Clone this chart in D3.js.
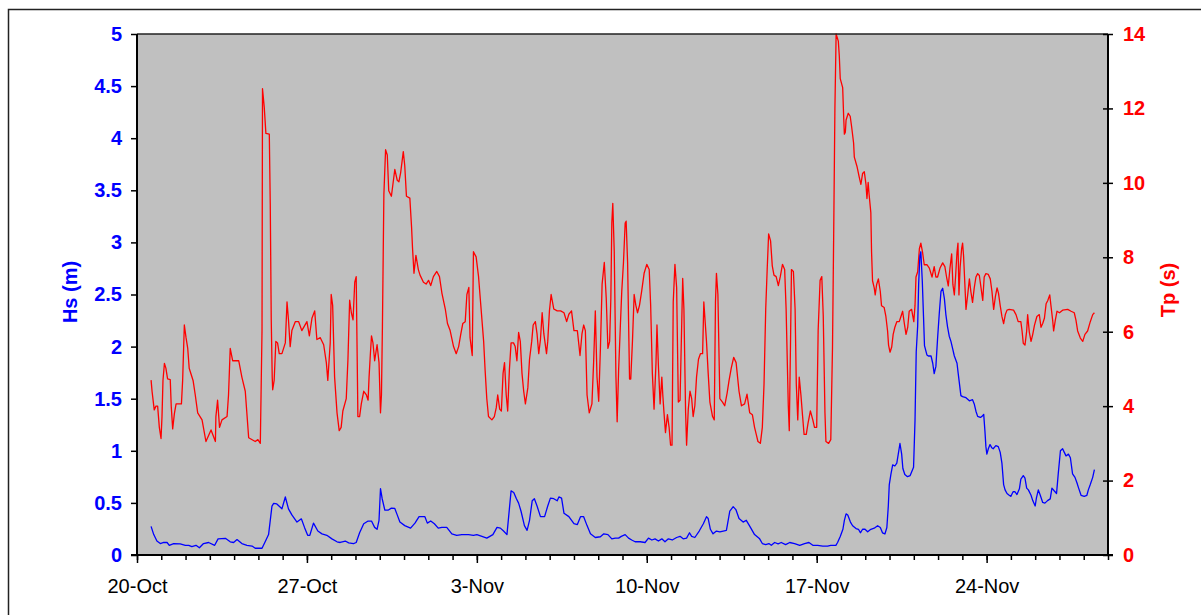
<!DOCTYPE html>
<html>
<head>
<meta charset="utf-8">
<script src="https://cdn.jsdelivr.net/npm/d3@7"></script>
<style>
  body { margin: 0; background: #fff; }
  text { font-family: "Liberation Sans", Arial, sans-serif; }
</style>
</head>
<body>
<svg id="chart" width="1201" height="615"></svg>
<script>
// days after 20-Oct (00:00) and the value read at that time
var startDate = Date.UTC(2004, 9, 20);
var endDay = 40;

var tpDay = [0.58,0.62,0.71,0.78,0.85,0.92,0.99,1.03,1.07,1.13,1.19,1.26,1.37,1.41,1.47,1.54,1.61,1.83,1.88,1.95,2.02,2.09,2.15,2.31,2.40,2.50,2.68,2.84,3.05,3.23,3.25,3.32,3.40,3.50,3.71,3.77,3.84,3.94,4.19,4.32,4.46,4.60,4.87,4.98,5.08,5.11,5.15,5.17,5.24,5.31,5.45,5.49,5.53,5.57,5.59,5.65,5.72,5.79,5.86,5.97,6.11,6.18,6.24,6.31,6.38,6.52,6.66,6.79,7.00,7.10,7.21,7.32,7.41,7.55,7.69,7.80,7.86,7.96,8.00,8.06,8.14,8.24,8.33,8.41,
  8.48,8.62,8.69,8.76,8.83,8.90,8.97,9.03,9.10,9.17,9.24,9.34,9.45,9.52,9.56,9.61,9.66,9.72,9.79,9.89,9.97,10.03,10.07,10.11,10.17,10.24,10.31,10.37,10.48,10.62,10.72,10.79,10.86,10.97,11.03,11.10,11.24,11.31,11.35,11.41,11.49,11.59,11.66,11.80,11.91,12.01,12.10,12.21,12.35,12.46,12.56,12.70,12.79,12.90,13.04,13.15,13.25,13.34,13.42,13.52,13.59,13.67,13.72,13.81,13.86,13.97,14.07,14.14,14.28,14.34,14.41,14.48,14.62,14.72,14.80,14.86,14.94,15.01,15.08,15.14,15.21,15.27,15.34,15.41,15.51,15.58,15.65,15.72,15.79,15.86,15.93,16.00,16.10,16.17,16.26,16.32,16.41,16.48,16.55,16.62,16.69,16.76,16.87,16.92,16.99,17.06,17.17,17.31,17.45,17.59,17.70,17.79,17.90,18.00,18.14,18.25,
  18.33,18.40,18.47,18.54,18.63,18.74,18.81,18.88,18.95,19.02,19.09,19.16,19.25,19.33,19.40,19.47,19.52,19.56,19.60,19.66,19.73,19.78,19.84,19.91,19.97,20.04,20.11,20.15,20.21,20.29,20.34,20.41,20.48,20.55,20.62,20.70,20.79,20.89,21.00,21.10,21.16,21.23,21.30,21.38,21.42,21.48,21.55,21.62,21.66,21.71,21.77,21.85,21.92,21.98,22.04,22.09,22.16,22.23,22.30,22.37,22.44,22.48,22.53,22.60,22.64,22.71,22.78,22.85,22.91,22.98,23.05,23.13,23.21,23.30,23.35,23.41,23.46,23.53,23.60,23.71,23.78,23.83,23.87,23.93,24.01,24.12,24.21,24.31,24.39,24.48,24.58,24.68,24.80,24.90,25.03,25.13,25.24,25.35,25.44,25.51,25.58,25.68,25.76,25.83,25.90,25.96,26.02,26.10,26.17,26.24,26.33,26.42,26.50,26.59,26.68,26.74,26.83,26.87,26.92,26.96,27.04,27.11,27.16,27.22,27.28,27.35,27.42,27.48,27.57,27.64,27.74,27.84,27.91,28.00,28.06,28.14,28.21,28.27,28.34,28.38,28.49,28.58,28.65,28.70,28.75,28.80,
  28.89,28.93,28.97,29.07,29.11,29.14,29.18,29.21,29.30,29.38,29.44,29.52,29.55,29.66,29.75,29.82,29.89,29.96,30.03,30.07,30.12,30.16,30.23,30.26,30.30,30.37,30.41,30.47,30.54,30.62,30.67,30.78,30.85,30.92,30.96,31.02,31.09,31.15,31.22,31.30,31.40,31.47,31.54,31.61,31.68,31.75,31.81,31.91,32.00,32.05,32.09,32.16,32.23,32.29,32.36,32.43,32.54,32.64,32.75,32.84,32.91,32.98,33.08,33.19,33.28,33.35,33.42,33.49,33.56,33.61,33.67,33.72,33.78,33.82,33.86,33.91,33.97,34.01,34.05,34.11,34.15,34.22,34.29,34.35,34.42,34.49,34.56,34.63,34.70,34.77,34.84,34.90,34.97,35.07,35.15,35.22,35.29,35.36,35.43,35.49,35.56,35.63,35.70,35.77,35.84,35.93,36.11,36.21,36.30,36.41,36.46,36.51,36.58,36.65,36.69,36.76,36.83,36.90,36.97,37.07,37.17,37.24,37.31,37.38,37.45,37.52,37.60,37.65,37.72,37.76,37.83,37.90,38.00,38.13,38.34,38.48,38.61,38.68,38.75,38.86,38.96,39.05,39.16,39.27,39.37,39.44];
var tpVal = [4.70,4.40,3.90,4.00,4.00,3.43,3.13,3.72,4.69,5.15,5.02,4.73,4.71,4.00,3.39,3.80,4.06,4.06,4.69,6.18,5.84,5.55,5.02,4.69,4.30,3.82,3.63,3.05,3.36,3.05,3.72,4.16,3.43,3.63,3.72,4.30,5.55,5.22,5.22,4.78,4.40,3.15,3.05,3.10,3.00,4.30,6.03,12.53,12.05,11.33,11.31,9.40,6.32,4.78,4.44,4.69,5.74,5.70,5.41,5.41,5.70,6.80,6.32,5.60,6.03,6.27,6.27,6.03,6.27,5.89,6.37,6.56,5.79,5.84,5.65,5.17,4.69,5.70,7.00,6.71,4.78,3.82,3.34,3.43,
  3.87,4.20,5.26,6.85,6.51,6.32,7.33,7.48,3.72,3.72,4.06,4.40,4.30,4.16,4.78,5.36,5.89,5.70,5.22,5.65,5.17,3.82,4.30,6.13,9.69,10.89,10.75,9.79,9.64,10.36,10.07,10.03,10.27,10.84,10.46,9.64,9.59,8.82,8.25,7.57,8.05,7.67,7.52,7.33,7.28,7.38,7.24,7.48,7.62,7.48,7.04,6.61,6.22,6.03,5.60,5.41,5.60,5.94,6.22,6.27,7.00,7.19,5.84,5.36,8.15,8.01,7.48,6.90,5.74,4.97,4.20,3.72,3.63,3.72,3.96,4.30,3.92,3.87,4.88,5.17,4.30,3.87,4.97,5.70,5.70,5.60,5.22,5.98,5.74,4.88,4.40,4.06,4.49,5.26,5.74,6.18,6.27,5.94,5.41,5.79,6.51,5.94,5.41,5.74,6.56,7.00,6.61,6.56,6.56,6.51,6.27,6.47,6.56,6.03,6.03,5.36,
  5.94,6.18,6.03,4.30,3.82,4.06,5.17,6.56,4.78,4.13,5.55,7.28,7.86,6.90,5.55,5.74,6.90,8.92,9.45,8.15,4.78,3.58,4.97,6.13,7.09,7.86,8.92,8.97,7.86,4.73,4.73,5.74,7.00,6.71,6.51,6.71,7.09,7.57,7.81,7.67,6.71,4.88,3.92,5.17,6.18,5.07,4.06,4.78,4.30,3.82,3.29,3.77,3.43,2.95,2.95,6.80,7.81,7.19,4.11,4.16,6.22,7.43,6.61,3.82,2.95,3.92,4.40,4.20,3.72,4.01,4.78,5.26,5.41,5.41,6.80,6.22,5.74,4.88,4.11,3.72,3.63,6.80,7.57,7.00,4.20,4.11,4.01,4.35,4.69,5.02,5.31,5.17,4.40,4.01,4.06,4.32,3.82,3.77,3.43,3.24,3.05,3.00,3.43,4.59,6.61,7.67,8.63,8.44,7.77,7.52,7.48,7.24,7.48,7.81,7.67,6.61,4.01,3.34,5.65,7.67,7.62,6.61,4.59,3.63,4.78,4.30,3.72,3.24,3.24,3.53,3.87,3.63,3.43,3.43,6.03,7.38,7.48,6.42,3.82,3.05,3.00,3.10,5.55,8.63,12.00,14.00,
  13.81,13.42,12.80,12.56,11.79,11.31,11.36,11.69,11.87,11.79,11.50,11.07,10.69,10.44,10.16,9.96,10.25,10.30,9.96,9.58,10.01,9.68,9.20,8.14,7.37,7.18,6.99,7.27,7.42,7.08,6.70,6.65,6.41,6.02,5.64,5.45,5.59,5.93,6.12,6.27,6.27,6.41,6.55,6.22,5.93,6.12,6.55,6.60,6.27,6.70,7.47,7.61,8.23,8.38,8.14,7.80,7.80,7.71,7.47,7.75,7.47,7.47,7.71,7.85,7.75,7.47,7.23,7.71,8.09,7.27,6.99,7.47,8.14,8.38,6.99,7.75,8.23,8.38,8.04,7.18,6.60,6.99,7.42,7.08,6.79,7.18,7.47,7.56,7.51,7.18,6.84,7.47,7.56,7.54,7.42,7.08,6.60,6.94,7.18,7.03,6.70,6.41,6.22,6.46,6.58,6.60,6.58,6.46,6.27,6.27,6.02,5.69,5.64,6.02,6.46,5.98,5.74,5.93,6.17,6.41,6.46,6.12,6.22,6.36,6.75,6.84,6.99,6.70,6.31,6.02,6.31,6.55,6.51,6.58,6.60,6.55,6.51,6.31,6.02,5.83,5.74,5.93,6.02,6.27,6.46,6.51];

var hsDay = [0.58,0.69,0.82,0.96,1.10,1.24,1.33,1.51,1.78,1.99,2.13,2.26,2.43,2.57,2.74,2.95,3.20,3.34,3.64,3.84,3.98,4.12,4.32,4.53,4.74,4.87,5.15,5.28,5.42,5.56,5.63,5.76,5.97,6.11,6.24,6.38,6.59,6.77,6.90,7.03,7.12,7.27,7.45,7.62,7.82,8.03,8.24,8.37,8.58,8.72,8.92,
  9.03,9.17,9.34,9.52,9.66,9.79,9.89,9.97,10.03,10.10,10.21,10.34,10.48,10.62,10.72,10.83,11.03,11.27,11.45,11.62,11.86,11.96,12.10,12.25,12.41,12.56,12.76,12.97,13.17,13.38,13.66,13.86,14.00,14.21,14.41,14.66,14.83,14.97,15.10,15.24,15.41,15.52,15.63,15.72,15.82,15.96,16.07,16.17,16.28,16.37,16.48,16.62,16.79,16.92,17.03,17.17,17.31,17.38,17.49,17.59,17.79,18.00,18.14,
  18.27,18.40,18.54,18.68,18.88,19.09,19.23,19.40,19.56,19.70,19.84,19.95,20.11,20.25,20.38,20.52,20.73,20.93,21.07,21.21,21.34,21.48,21.62,21.75,21.89,22.05,22.23,22.37,22.50,22.64,22.76,22.85,22.98,23.16,23.33,23.46,23.53,23.62,23.73,23.87,24.01,24.15,24.28,24.33,24.42,24.56,24.67,24.80,24.97,25.10,25.27,25.44,25.65,25.76,25.90,26.03,26.13,26.27,26.41,26.54,26.72,26.89,27.09,27.30,27.50,27.68,27.84,28.04,28.25,28.45,28.58,
  28.70,28.79,28.86,28.97,29.08,29.14,29.21,29.28,29.39,29.48,29.62,29.72,29.80,29.89,29.99,30.10,30.23,30.37,30.51,30.62,30.71,30.81,30.89,30.95,30.99,31.06,31.13,31.22,31.30,31.36,31.43,31.50,31.55,31.63,31.74,31.85,31.91,31.99,32.05,32.10,32.16,32.20,32.25,32.29,32.35,32.40,32.44,32.54,32.60,32.71,32.78,32.84,32.91,32.98,33.05,33.12,33.19,33.26,33.32,33.39,33.46,33.53,33.60,33.67,33.78,33.83,33.94,34.01,34.15,34.29,34.42,34.49,34.56,34.63,34.74,34.81,34.88,34.93,34.97,35.01,35.07,35.14,35.21,35.27,35.38,35.48,35.56,35.63,35.70,35.76,35.84,35.93,36.00,36.09,36.17,36.25,36.35,36.41,36.51,36.58,36.65,36.72,36.83,36.90,37.00,37.05,37.13,37.21,37.31,37.40,37.51,37.62,37.69,37.79,37.88,37.95,38.04,38.13,38.20,38.27,38.37,38.45,38.54,38.64,38.72,38.79,38.89,39.02,39.13,39.19,39.27,39.37,39.44];
var hsVal = [0.275,0.196,0.134,0.11,0.12,0.12,0.093,0.11,0.107,0.093,0.093,0.08,0.093,0.069,0.11,0.12,0.093,0.155,0.16,0.127,0.12,0.148,0.11,0.093,0.086,0.065,0.065,0.127,0.196,0.47,0.495,0.49,0.443,0.557,0.443,0.385,0.316,0.347,0.265,0.189,0.189,0.306,0.23,0.203,0.189,0.155,0.127,0.12,0.134,0.117,0.11,
  0.12,0.213,0.30,0.326,0.326,0.265,0.247,0.333,0.636,0.54,0.43,0.43,0.45,0.447,0.385,0.316,0.282,0.258,0.306,0.368,0.368,0.306,0.326,0.30,0.258,0.265,0.265,0.203,0.189,0.196,0.196,0.189,0.196,0.179,0.162,0.196,0.265,0.258,0.23,0.196,0.615,0.60,0.54,0.498,0.42,0.282,0.237,0.333,0.52,0.54,0.47,0.368,0.368,0.47,0.546,0.54,0.52,0.557,0.546,0.40,0.368,0.30,0.292,
  0.368,0.368,0.282,0.203,0.168,0.175,0.203,0.196,0.155,0.162,0.162,0.179,0.196,0.162,0.144,0.127,0.127,0.12,0.162,0.144,0.155,0.134,0.155,0.127,0.155,0.144,0.168,0.179,0.155,0.162,0.213,0.179,0.168,0.23,0.30,0.368,0.35,0.247,0.203,0.23,0.223,0.23,0.237,0.30,0.42,0.464,0.436,0.35,0.316,0.333,0.265,0.196,0.155,0.11,0.10,0.11,0.093,0.12,0.107,0.12,0.10,0.12,0.11,0.093,0.11,0.12,0.093,0.093,0.086,0.086,0.093,
  0.093,0.093,0.12,0.178,0.247,0.333,0.395,0.384,0.316,0.281,0.254,0.247,0.213,0.247,0.247,0.223,0.247,0.257,0.281,0.264,0.213,0.202,0.264,0.47,0.676,0.779,0.865,0.854,0.882,0.968,1.07,0.968,0.83,0.772,0.752,0.762,0.796,0.841,1.29,1.95,2.20,2.60,2.87,2.91,2.63,2.29,2.01,1.92,1.91,1.91,1.84,1.74,1.81,2.08,2.32,2.53,2.56,2.46,2.31,2.19,2.10,2.05,1.98,1.91,1.84,1.74,1.53,1.52,1.51,1.48,1.49,1.45,1.38,1.33,1.32,1.33,1.35,1.19,1.04,0.968,1.02,1.06,1.03,1.02,1.05,1.04,0.985,0.882,0.676,0.625,0.59,0.573,0.563,0.607,0.607,0.58,0.635,0.728,0.762,0.738,0.642,0.625,0.573,0.522,0.47,0.546,0.625,0.573,0.504,0.498,0.522,0.539,0.642,0.614,0.59,0.779,1.0,1.02,0.985,0.951,0.968,0.933,0.779,0.745,0.693,0.642,0.573,0.563,0.573,0.625,0.676,0.745,0.82];

var hsTicks = [0, 0.5, 1, 1.5, 2, 2.5, 3, 3.5, 4, 4.5, 5];
var tpTicks = [0, 2, 4, 6, 8, 10, 12, 14];

var width = 1201, height = 615;
var margin = {top: 34, right: 93, bottom: 60, left: 137};
var innerW = width - margin.left - margin.right;
var innerH = height - margin.top - margin.bottom;

var toDate = function(d) { return new Date(startDate + d * 864e5); };

var x = d3.scaleUtc()
  .domain([toDate(0), toDate(endDay)])
  .range([0, innerW]);
var yHs = d3.scaleLinear().domain([0, 5]).range([innerH, 0]);
var yTp = d3.scaleLinear().domain([0, 14]).range([innerH, 0]);

var svg = d3.select("#chart");

// outer chart frame (runs off the right and bottom of the picture)
svg.append("rect")
  .attr("x", 8.5).attr("y", 9.5)
  .attr("width", 1300).attr("height", 700)
  .attr("fill", "none")
  .attr("stroke", "#222")
  .attr("stroke-width", 1.5);

var g = svg.append("g")
  .attr("transform", "translate(" + margin.left + "," + margin.top + ")");

g.append("rect")
  .attr("width", innerW).attr("height", innerH)
  .attr("fill", "#c0c0c0");

var hsData = hsDay.map(function(d, i) { return {t: toDate(d), v: hsVal[i]}; });
var tpData = tpDay.map(function(d, i) { return {t: toDate(d), v: tpVal[i]}; });

g.append("path")
  .datum(tpData)
  .attr("fill", "none")
  .attr("stroke", "#ff0000")
  .attr("stroke-width", 1.3)
  .attr("stroke-linejoin", "round")
  .attr("d", d3.line().x(function(d) { return x(d.t); }).y(function(d) { return yTp(d.v); }));

g.append("path")
  .datum(hsData)
  .attr("fill", "none")
  .attr("stroke", "#0000ff")
  .attr("stroke-width", 1.3)
  .attr("stroke-linejoin", "round")
  .attr("d", d3.line().x(function(d) { return x(d.t); }).y(function(d) { return yHs(d.v); }));

// plot border
g.append("line").attr("x1", 0).attr("x2", innerW).attr("y1", 0).attr("y2", 0)
  .attr("stroke", "#222").attr("stroke-width", 1.5);
g.append("line").attr("x1", 0).attr("x2", 0).attr("y1", 0).attr("y2", innerH)
  .attr("stroke", "#000").attr("stroke-width", 2);
g.append("line").attr("x1", innerW).attr("x2", innerW).attr("y1", 0).attr("y2", innerH)
  .attr("stroke", "#000").attr("stroke-width", 2);
g.append("line").attr("x1", -6).attr("x2", innerW + 5).attr("y1", innerH).attr("y2", innerH)
  .attr("stroke", "#000").attr("stroke-width", 2);

// left axis, Hs
var leftAxis = g.append("g")
  .call(d3.axisLeft(yHs).tickValues(hsTicks).tickSize(6).tickPadding(9)
    .tickFormat(function(d) { return String(d); }));
leftAxis.select(".domain").remove();
leftAxis.selectAll("line").attr("stroke", "#000").attr("stroke-width", 1.5);
leftAxis.selectAll("text")
  .attr("fill", "#0000ff")
  .style("font-size", "20px")
  .style("font-weight", "bold");

// right axis, Tp (ticks cross the axis)
var rightAxis = g.append("g")
  .attr("transform", "translate(" + innerW + ",0)")
  .call(d3.axisRight(yTp).tickValues(tpTicks).tickSize(5).tickPadding(10));
rightAxis.select(".domain").remove();
rightAxis.selectAll("line").attr("x1", -5).attr("stroke", "#000").attr("stroke-width", 1.5);
rightAxis.selectAll("text")
  .attr("fill", "#ff0000")
  .style("font-size", "20px")
  .style("font-weight", "bold");

// bottom axis: daily minor ticks, weekly labelled ticks
var minorAxis = g.append("g")
  .attr("transform", "translate(0," + innerH + ")")
  .call(d3.axisBottom(x).ticks(d3.utcDay.every(1)).tickSize(5).tickFormat(""));
minorAxis.select(".domain").remove();
minorAxis.selectAll("line").attr("stroke", "#000").attr("stroke-width", 1.5);

var weekTicks = d3.range(0, endDay, 7).map(toDate);
var majorAxis = g.append("g")
  .attr("transform", "translate(0," + innerH + ")")
  .call(d3.axisBottom(x).tickValues(weekTicks).tickSize(8).tickPadding(16)
    .tickFormat(d3.utcFormat("%-d-%b")));
majorAxis.select(".domain").remove();
majorAxis.selectAll("line").attr("stroke", "#000").attr("stroke-width", 1.5);
majorAxis.selectAll("text")
  .attr("fill", "#000")
  .style("font-size", "20px");

// axis titles
svg.append("text")
  .attr("transform", "translate(77,292) rotate(-90)")
  .attr("text-anchor", "middle")
  .attr("fill", "#0000ff")
  .style("font-size", "20px")
  .style("font-weight", "bold")
  .text("Hs (m)");

svg.append("text")
  .attr("transform", "translate(1175,290) rotate(-90)")
  .attr("text-anchor", "middle")
  .attr("fill", "#ff0000")
  .style("font-size", "20px")
  .style("font-weight", "bold")
  .text("Tp (s)");
</script>
</body>
</html>
